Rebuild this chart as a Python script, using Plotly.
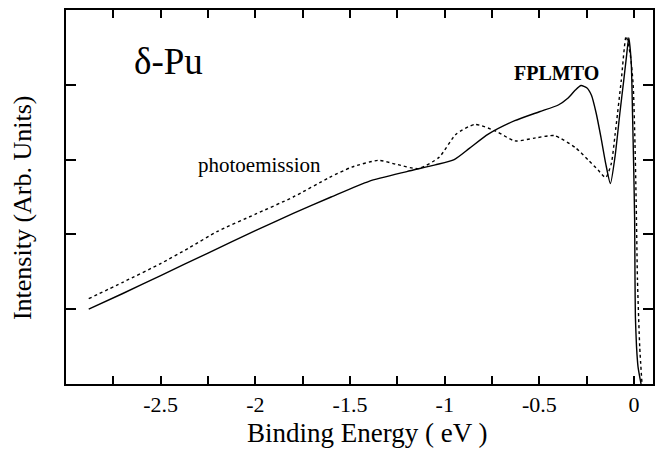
import plotly.graph_objects as go

# ---- data ----
fplmto_x = [-2.88, -2.7, -2.5, -2.25, -2.0, -1.8, -1.6, -1.4, -1.2, -1.05, -0.95,
            -0.87, -0.77, -0.63, -0.5, -0.4, -0.35, -0.31, -0.28, -0.25, -0.225,
            -0.2, -0.175, -0.15, -0.125, -0.1, -0.075, -0.055, -0.04, -0.028,
            -0.015, -0.008, -0.002, 0.003, 0.005, 0.007, 0.013, 0.021, 0.037]
fplmto_y = [1.00, 1.21, 1.45, 1.75, 2.05, 2.28, 2.50, 2.71, 2.84, 2.93, 3.00,
            3.15, 3.34, 3.52, 3.64, 3.73, 3.82, 3.93, 3.99, 3.96, 3.86,
            3.62, 3.30, 2.95, 2.68, 3.05, 3.62, 4.05, 4.38, 4.63,
            4.30, 3.60, 2.90, 2.20, 1.40, 0.90, 0.50, 0.23, 0.00]

photo_x = [-2.88, -2.7, -2.5, -2.35, -2.2, -2.0, -1.8, -1.61, -1.49, -1.35, -1.26,
           -1.14, -1.03, -0.94, -0.84, -0.73, -0.63, -0.52, -0.42, -0.31, -0.24,
           -0.19, -0.15, -0.12, -0.1, -0.068, -0.042, -0.02, -0.005, 0.005, 0.011,
           0.018, 0.030, 0.042]
photo_y = [1.14, 1.36, 1.61, 1.82, 2.04, 2.27, 2.50, 2.76, 2.90, 2.99, 2.94,
           2.88, 3.03, 3.34, 3.47, 3.38, 3.25, 3.29, 3.32, 3.16, 2.99,
           2.86, 2.76, 2.95, 3.34, 4.05, 4.65, 4.40, 4.01, 3.20, 2.45,
           1.39, 0.49, 0.00]

x_tickvals = [-2.75, -2.5, -2.25, -2.0, -1.75, -1.5, -1.25, -1.0, -0.75, -0.5, -0.25, 0.0]
x_ticktext = ["", "-2.5", "", "-2", "", "-1.5", "", "-1", "", "-0.5", "", "0"]
y_tickvals = [1, 2, 3, 4]

FONT = "Liberation Serif"
W, H = 663, 455
L, R, T, B = 66, 8, 8, 71
PW, PH = W - L - R, H - T - B


def px(xp):
    return (xp - L) / PW


def py(yp):
    return (H - B - yp) / PH


fig = go.Figure()
fig.add_trace(go.Scatter(x=fplmto_x, y=fplmto_y, mode="lines",
                         line=dict(color="black", width=1.4, shape="spline", smoothing=0.6),
                         name="FPLMTO", showlegend=False))
fig.add_trace(go.Scatter(x=photo_x, y=photo_y, mode="lines",
                         line=dict(color="black", width=1.4, dash="dot", shape="spline", smoothing=0.6),
                         name="photoemission", showlegend=False))

fig.update_layout(
    width=W, height=H,
    margin=dict(l=L, r=R, t=T, b=B),
    paper_bgcolor="white", plot_bgcolor="white",
    font=dict(family=FONT, color="black"),
    xaxis=dict(range=[-3.0, 0.1], tickmode="array", tickvals=x_tickvals, ticktext=x_ticktext,
               ticks="inside", ticklen=8, tickwidth=1.5, tickcolor="black",
               showline=True, linewidth=2, linecolor="black", mirror="allticks",
               showgrid=False, zeroline=False,
               tickfont=dict(family=FONT, size=22, color="black")),
    yaxis=dict(range=[0, 5], tickmode="array", tickvals=y_tickvals, showticklabels=False,
               ticks="inside", ticklen=10, tickwidth=1.5, tickcolor="black",
               showline=True, linewidth=2, linecolor="black", mirror="allticks",
               showgrid=False, zeroline=False),
    annotations=[
        dict(text="δ-Pu", xref="paper", yref="paper", x=px(169), y=py(60),
             showarrow=False, font=dict(family=FONT, size=37, color="black"),
             xanchor="center", yanchor="middle"),
        dict(text="<b>FPLMTO</b>", xref="paper", yref="paper", x=px(558), y=py(71),
             showarrow=False, font=dict(family=FONT, size=20, color="black"),
             xanchor="center", yanchor="middle"),
        dict(text="photoemission", xref="paper", yref="paper", x=px(260), y=py(164),
             showarrow=False, font=dict(family=FONT, size=21, color="black"),
             xanchor="center", yanchor="middle"),
        dict(text="Binding Energy ( eV )", xref="paper", yref="paper", x=px(368), y=py(433),
             showarrow=False, font=dict(family=FONT, size=27, color="black"),
             xanchor="center", yanchor="middle"),
        dict(text="Intensity (Arb. Units)", xref="paper", yref="paper", x=px(23), y=py(207),
             showarrow=False, font=dict(family=FONT, size=26, color="black"),
             textangle=-90, xanchor="center", yanchor="middle"),
    ],
)

fig.write_html("out.html")
